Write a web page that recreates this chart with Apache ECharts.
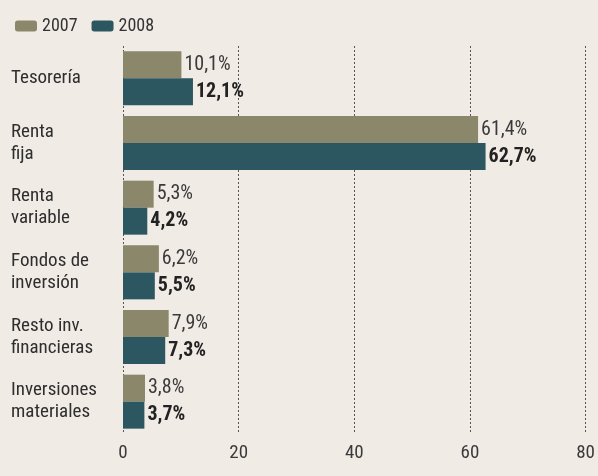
<!DOCTYPE html>
<html>
<head>
<meta charset="utf-8">
<script src="https://cdn.jsdelivr.net/npm/echarts@6/dist/echarts.min.js"></script>
<style>
  html, body { margin: 0; padding: 0; background: #f0ebe5; }
  #chart { width: 598px; height: 476px; }
</style>
</head>
<body>
<div id="chart"></div>
<script>
// datos
const categories = ['Tesorería', 'Renta\nfija', 'Renta\nvariable', 'Fondos de\ninversión', 'Resto inv.\nfinancieras', 'Inversiones\nmateriales'];
const values2007 = [10.1, 61.4, 5.3, 6.2, 7.9, 3.8];
const values2008 = [12.1, 62.7, 4.2, 5.5, 7.3, 3.7];
const xTicks = [0, 20, 40, 60, 80];

const fontFam = '"Roboto Condensed", "Liberation Sans", sans-serif';
const fmt = (p) => String(p.value).replace('.', ',') + '%';

const myChart = echarts.init(document.getElementById('chart'));
const option = {
    backgroundColor: '#f0ebe5',
    animation: false,
    legend: {
        left: 10,
        top: 12,
        itemWidth: 22,
        itemHeight: 11,
        itemGap: 14,
        textStyle: { color: '#333', fontSize: 18, fontFamily: fontFam },
        data: ['2007', '2008'],
    },
    grid: {
        left: 123,
        right: 11,
        top: 46,
        height: 388,
    },
    xAxis: {
        type: 'value',
        min: xTicks[0],
        max: xTicks[xTicks.length - 1],
        interval: 20,
        axisLine: { show: false },
        axisTick: { show: false },
        axisLabel: {
            color: '#3a3a3a',
            fontSize: 19,
            fontFamily: fontFam,
            margin: 10,
        },
        splitLine: {
            show: true,
            lineStyle: { color: '#555', type: [2, 2], width: 1 },
        },
    },
    yAxis: {
        type: 'category',
        inverse: true,
        data: categories,
        axisLine: { show: false },
        axisTick: { show: false },
        axisLabel: {
            align: 'left',
            margin: 112,
            color: '#2e2e2e',
            fontSize: 19,
            lineHeight: 22,
            padding: [9, 0, 0, 0],
            fontFamily: fontFam,
        },
    },
    series: [
        {
            name: '2007',
            type: 'bar',
            data: values2007,
            barWidth: 27,
            barGap: '0%',
            itemStyle: { color: '#8a876b' },
            label: {
                show: true,
                position: 'right',
                distance: 3,
                formatter: fmt,
                color: '#3a3a3a',
                fontSize: 20,
                fontFamily: fontFam,
            },
        },
        {
            name: '2008',
            type: 'bar',
            data: values2008,
            barWidth: 27,
            itemStyle: { color: '#2d5760' },
            label: {
                show: true,
                position: 'right',
                distance: 3,
                formatter: fmt,
                color: '#222',
                fontSize: 20,
                fontWeight: 'bold',
                fontFamily: fontFam,
            },
        },
    ],
};
myChart.setOption(option);
</script>
</body>
</html>
